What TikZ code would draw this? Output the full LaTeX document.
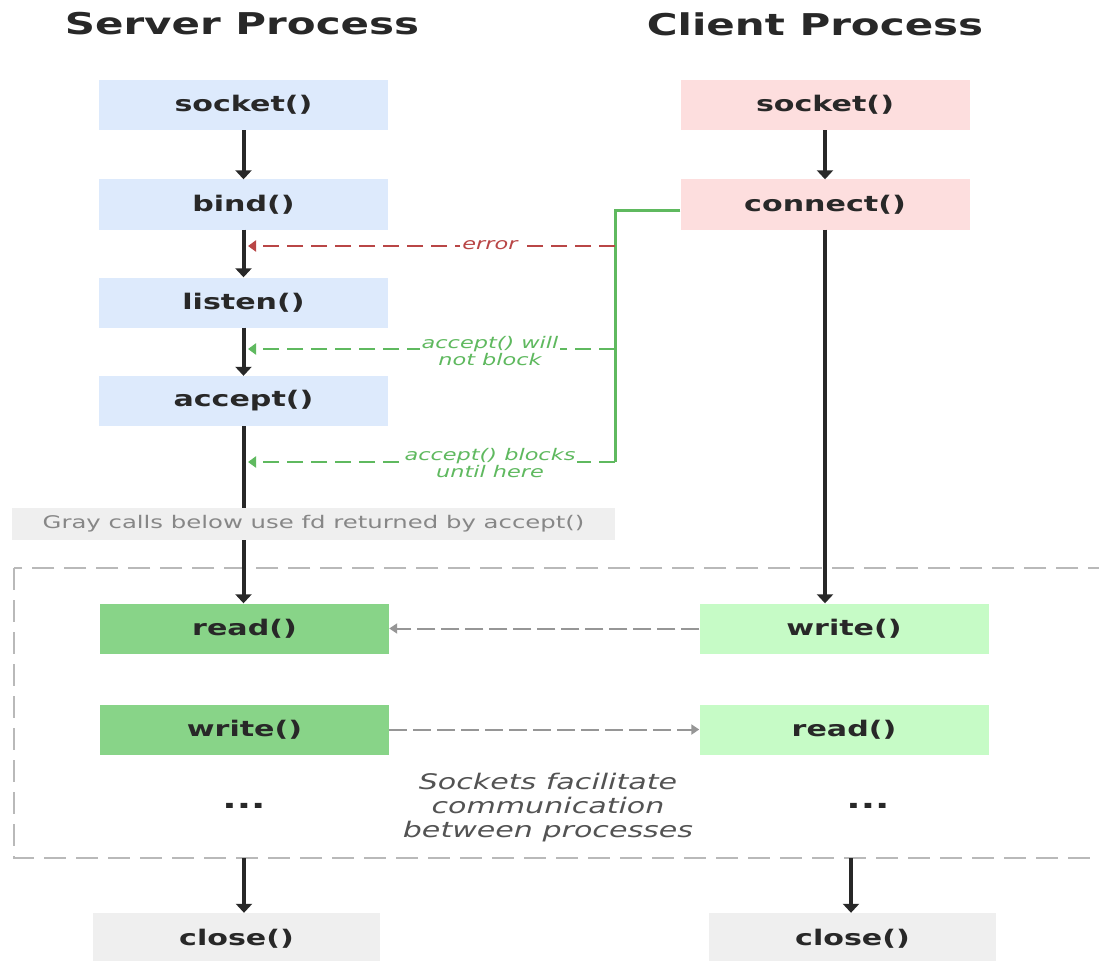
\documentclass[tikz,border=0pt]{standalone}
\usepackage{fontspec}
\setmainfont[FakeStretch=1.4]{DejaVu Sans}
\usetikzlibrary{arrows.meta}
\definecolor{sblue}{RGB}{221,234,252}
\definecolor{cpink}{RGB}{253,222,222}
\definecolor{dgreen}{RGB}{136,212,136}
\definecolor{lgreen}{RGB}{198,251,198}
\definecolor{lgray}{RGB}{239,239,239}
\definecolor{gline}{RGB}{95,185,95}
\definecolor{rline}{RGB}{185,70,70}
\definecolor{dgray}{RGB}{150,150,150}
\definecolor{rgray}{RGB}{185,185,185}
\definecolor{txt}{RGB}{40,40,40}
\tikzset{
  callbox/.style={minimum width=289pt,minimum height=50pt,inner sep=0pt,font=\fontsize{21.5}{25}\selectfont\bfseries,text=txt},
  title/.style={font=\fontsize{30}{34}\selectfont\bfseries,text=txt},
  flow/.style={line width=4pt,draw=txt,-{Triangle[width=16pt,length=9pt]}},
  flowplain/.style={line width=4pt,draw=txt},
  sig/.style={line width=2pt,dash pattern=on 16pt off 8pt},
  lbl/.style={font=\fontsize{16}{16.5}\selectfont\itshape,fill=white,inner sep=2pt,align=center},
  gdash/.style={line width=2.5pt,draw=rgray,dash pattern=on 22pt off 10pt},
  iodash/.style={line width=2pt,draw=dgray,dash pattern=on 18pt off 6pt,-{Triangle[width=10pt,length=8pt]}},
  dots/.style={font=\fontsize{27}{28}\selectfont\bfseries,text=txt},
}
\begin{document}
\begin{tikzpicture}[x=1pt,y=-1pt]
\useasboundingbox (0,0) rectangle (1099,960);
\clip (0,0) rectangle (1099,960);
\fill[white] (0,0) rectangle (1099,960);
% titles
\node[title] (tser) at (242,24) {Server Process};
\node[title] (tcli) at (815,24) {Client Process};
% server boxes
\node[callbox,fill=sblue] (ssock) at (243.5,105) {socket()};
\node[callbox,fill=sblue] (sbind) at (243.5,204.5) {bind()};
\node[callbox,fill=sblue] (slist) at (243.5,302.5) {listen()};
\node[callbox,fill=sblue] (sacc) at (243.5,401) {accept()};
% client boxes
\node[callbox,fill=cpink] (csock) at (825,105) {socket()};
\node[callbox,fill=cpink] (cconn) at (825,204.5) {connect()};
% gray note
\node[minimum width=603pt,minimum height=32pt,inner sep=0pt,fill=lgray,text=dgray!90!black,font=\fontsize{17.4}{18}\selectfont] (note) at (313.5,524) {Gray calls below use fd returned by accept()};
% dashed region
\draw[gdash] (14,568) rectangle (1120,858);
% io boxes
\node[callbox,fill=dgreen] (sread) at (244.5,628.5) {read()};
\node[callbox,fill=dgreen] (swrite) at (244.5,729.5) {write()};
\node[callbox,fill=lgreen] (cwrite) at (844,628.5) {write()};
\node[callbox,fill=lgreen] (cread) at (844,729.5) {read()};
\node[dots] (sdots) at (244,806) {...};
\node[dots] (cdots) at (868,806) {...};
\node[font=\fontsize{21.5}{24}\selectfont\itshape,text=txt!80,align=center] (sock) at (548,808) {Sockets facilitate\\communication\\between processes};
% close boxes
\node[callbox,fill=lgray,minimum width=287pt,minimum height=52pt] (sclose) at (236.5,939) {close()};
\node[callbox,fill=lgray,minimum width=287pt,minimum height=52pt] (cclose) at (852.5,939) {close()};
% server flow
\draw[flow] (ssock.south) -- (sbind.north);
\draw[flow] (sbind.south) -- (slist.north);
\draw[flow] (slist.south) -- (sacc.north);
\draw[flowplain] (sacc.south) -- (sacc.south |- note.north);
\draw[flow] (sacc.south |- note.south) -- (sread.north -| sacc.south);
\coordinate (sbot) at (244,858);
\draw[flow] (sbot) -- (sclose.north -| sbot);
% client flow
\draw[flow] (csock.south) -- (cconn.south |- cconn.north);
\draw[flow] (cconn.south) -- (cwrite.north -| cconn.south);
\coordinate (cbot) at (851,858);
\draw[flow] (cbot) -- (cclose.north -| cbot);
% green connect signal
\coordinate (g0) at (681,210);
\coordinate (g1) at (615,210);
\coordinate (g2) at (615,462);
\coordinate (g3) at (615,349);
\coordinate (r0) at (615,246);
\coordinate (t1) at (248,246);
\coordinate (t2) at (248,349);
\coordinate (t3) at (248,462);
\draw[line width=3pt,draw=gline] (cconn.west |- g0) -- (g1) -- (g2);
\draw[sig,draw=rline,-{Triangle[width=11pt,length=8pt]}] (r0) -- (t1);
\draw[sig,draw=gline,-{Triangle[width=11pt,length=8pt]}] (g3) -- (t2);
\draw[sig,draw=gline,-{Triangle[width=11pt,length=8pt]}] (g2) -- (t3);
\node[lbl,text=rline] (lerr) at (490,245) {error};
\node[lbl,text=gline] (lwill) at (490,351) {accept() will\\not block};
\node[lbl,text=gline] (lblk) at (490,463) {accept() blocks\\until here};
% io arrows
\draw[iodash] (cwrite.west) -- (sread.east);
\draw[iodash] (swrite.east) -- (cread.west);
\end{tikzpicture}
\end{document}
